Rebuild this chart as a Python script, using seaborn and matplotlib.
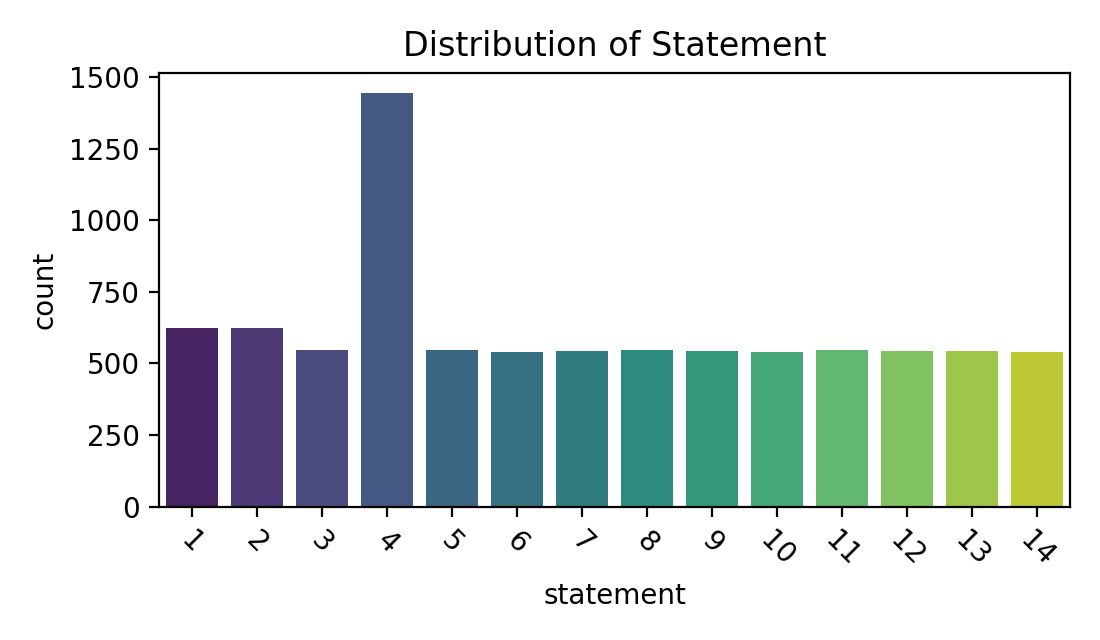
import matplotlib
matplotlib.use("Agg")
import matplotlib.pyplot as plt
import seaborn as sns
import pandas as pd

statements = [str(i) for i in range(1, 15)]
counts = [623, 623, 546, 1443, 546, 539, 542, 546, 542, 539, 546, 542, 542, 539]

df = pd.DataFrame({"statement": statements, "count": counts})

plt.figure(figsize=(5.5, 3.2), dpi=200)
sns.barplot(data=df, x="statement", y="count", hue="statement", palette="viridis", legend=False)
plt.title("Distribution of Statement")
plt.xticks(rotation=-45)
plt.tight_layout()
plt.savefig("out.png", dpi=200)
